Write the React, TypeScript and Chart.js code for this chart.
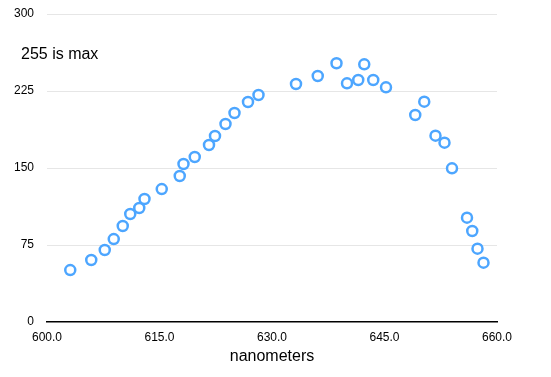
import React, { useEffect, useRef } from "react";
import { Chart, registerables } from "chart.js";

Chart.register(...registerables);

const wavelengths = [
  603.1, 605.9, 607.7, 608.9, 610.1, 611.1, 612.3, 613.0, 615.3, 617.7,
  618.2, 619.7, 621.6, 622.4, 623.8, 625.0, 626.8, 628.2, 633.2, 636.1,
  638.6, 640.0, 641.5, 642.3, 643.5, 645.2, 649.1, 650.3, 651.8, 653.0,
  654.0, 656.0, 656.7, 657.4, 658.2,
];
const intensities = [
  50.6, 60.4, 70.1, 80.8, 93.5, 105.2, 111, 119.8, 129.5, 142.2,
  153.9, 160.7, 172.4, 181.2, 192.9, 203.6, 214.3, 221.1, 231.8, 239.6,
  252, 232.5, 235.7, 251, 235.7, 228.6, 201.6, 214.6, 181.5, 174.7,
  149.7, 101.6, 88.6, 71.4, 57.8,
];
const xTitle = "nanometers";
const yNote = "255 is max";
const xMin = 600, xMax = 660, xStep = 15;
const yMin = 0, yMax = 300, yStep = 75;

const FONT = "'Liberation Sans', Arial, Helvetica, sans-serif";

export default function App() {
  const ref = useRef<HTMLCanvasElement>(null);
  useEffect(() => {
    if (!ref.current) return;
    const notePlugin = {
      id: "note",
      afterDraw(chart: any) {
        const ctx = chart.ctx;
        ctx.save();
        ctx.font = `16px ${FONT}`;
        ctx.fillStyle = "#000";
        ctx.textAlign = "left";
        ctx.textBaseline = "middle";
        ctx.fillText(yNote, 21, 55);
        ctx.restore();
      },
    };
    const chart = new Chart(ref.current, {
      type: "scatter",
      data: {
        datasets: [
          {
            data: wavelengths.map((x, i) => ({ x, y: intensities[i] })),
            backgroundColor: "#ffffff",
            borderColor: "#4da6ff",
            borderWidth: 2.5,
            pointRadius: 5,
            pointHoverRadius: 5,
            clip: false,
          },
        ],
      },
      options: {
        responsive: false,
        animation: false,
        layout: { autoPadding: false, padding: { top: 14, right: 54, bottom: 0, left: 0 } },
        plugins: { legend: { display: false }, tooltip: { enabled: false } },
        scales: {
          x: {
            type: "linear",
            min: xMin,
            max: xMax,
            afterFit: (s: any) => {
              s.height = 55;
              s.paddingLeft = 0;
              s.paddingRight = 0;
            },
            ticks: {
              stepSize: xStep,
              padding: 8.5,
              color: "#000",
              font: { family: FONT, size: 12 },
              callback: (v: any) => Number(v).toFixed(1),
              maxRotation: 0,
            },
            grid: { display: false, drawTicks: false },
            border: { display: true, color: "#000", width: 1.5 },
            title: {
              display: true,
              text: xTitle,
              color: "#000",
              font: { family: FONT, size: 16 },
              padding: { top: 4, bottom: 10.5 },
            },
          },
          y: {
            min: yMin,
            max: yMax,
            afterFit: (s: any) => {
              s.width = 47;
              s.paddingTop = 0;
              s.paddingBottom = 0;
            },
            ticks: {
              stepSize: yStep,
              padding: 13,
              color: "#000",
              font: { family: FONT, size: 12 },
            },
            grid: {
              color: (c: any) => (c.tick && c.tick.value === 0 ? "rgba(0,0,0,0)" : "#e6e6e6"),
              drawTicks: false,
              lineWidth: 1,
            },
            border: { display: false },
          },
        },
      },
      plugins: [notePlugin],
    });
    return () => chart.destroy();
  }, []);
  return (
    <div style={{ position: "fixed", left: 0, top: 0, width: 551, height: 377, background: "#fff" }}>
      <canvas ref={ref} width={551} height={377} style={{ display: "block" }} />
    </div>
  );
}
